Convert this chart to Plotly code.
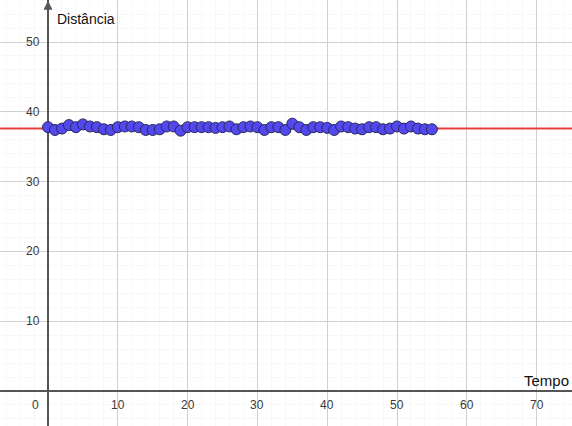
import plotly.graph_objects as go

# Data
tempo = list(range(0, 56))
distancia = [37.8, 37.4, 37.6, 38.1, 37.8, 38.2, 37.9, 37.8, 37.5, 37.4,
             37.8, 37.9, 37.9, 37.8, 37.4, 37.4, 37.5, 37.9, 37.9, 37.3,
             37.8, 37.8, 37.8, 37.8, 37.7, 37.8, 37.9, 37.5, 37.8, 37.9,
             37.8, 37.4, 37.8, 37.8, 37.4, 38.3, 37.8, 37.4, 37.8, 37.8,
             37.7, 37.4, 37.9, 37.8, 37.6, 37.5, 37.8, 37.8, 37.5, 37.6,
             37.9, 37.6, 37.9, 37.6, 37.5, 37.5]
ajuste = 37.6  # horizontal fitted line

x_ticks = [0, 10, 20, 30, 40, 50, 60, 70]
y_ticks = [10, 20, 30, 40, 50]
x_label = "Tempo"
y_label = "Distância"

XR = [-6.88, 75.07]
YR = [-5.01, 56.02]

fig = go.Figure()

fig.add_trace(go.Scatter(x=XR, y=[ajuste, ajuste], mode="lines",
                         line=dict(color="rgb(232,60,60)", width=2),
                         hoverinfo="skip", showlegend=False))
fig.add_trace(go.Scatter(x=tempo, y=distancia, mode="markers",
                         marker=dict(size=11, color="rgb(82,72,238)",
                                     line=dict(color="rgb(40,40,90)", width=1)),
                         showlegend=False))

tick_font = dict(family="Liberation Sans", size=12, color="#3a3a3a")
annotations = []
for t in x_ticks:
    annotations.append(dict(x=(t if t != 0 else -1.75), y=-2.0, xref="x", yref="y",
                            text=str(t), showarrow=False, font=tick_font,
                            xanchor="center", yanchor="middle"))
for v in y_ticks:
    annotations.append(dict(x=-0.85, y=v, xref="x", yref="y", text=str(v),
                            showarrow=False, font=tick_font,
                            xanchor="right", yanchor="middle"))
annotations.append(dict(x=1.0, y=53.3, xref="x", yref="y", text=y_label,
                        showarrow=False, xanchor="left", yanchor="middle",
                        font=dict(family="Liberation Sans", size=14, color="#111")))
annotations.append(dict(x=67.9, y=1.5, xref="x", yref="y", text=x_label,
                        showarrow=False, xanchor="left", yanchor="middle",
                        font=dict(family="Liberation Sans", size=15, color="#111")))
# arrow at top of y axis
annotations.append(dict(x=0, y=55.9, xref="x", yref="y", ax=0, ay=50, axref="x", ayref="y",
                        text="", showarrow=True, arrowhead=2, arrowsize=1.2,
                        arrowwidth=1.5, arrowcolor="#555"))

fig.update_layout(
    width=572, height=426,
    margin=dict(l=0, r=0, t=0, b=0),
    paper_bgcolor="white", plot_bgcolor="white",
    xaxis=dict(range=XR, dtick=10, tick0=0, showgrid=True, gridcolor="rgb(208,208,208)",
               gridwidth=1, showticklabels=False, zeroline=True, zerolinecolor="#555",
               zerolinewidth=1.5, ticks="", showline=False,
               minor=dict(dtick=2, showgrid=True, gridcolor="rgb(247,247,247)", gridwidth=1)),
    yaxis=dict(range=YR, dtick=10, tick0=0, showgrid=True, gridcolor="rgb(208,208,208)",
               gridwidth=1, showticklabels=False, zeroline=True, zerolinecolor="#555",
               zerolinewidth=1.5, ticks="", showline=False,
               minor=dict(dtick=2, showgrid=True, gridcolor="rgb(247,247,247)", gridwidth=1)),
    annotations=annotations,
)

fig.write_html("out.html")
